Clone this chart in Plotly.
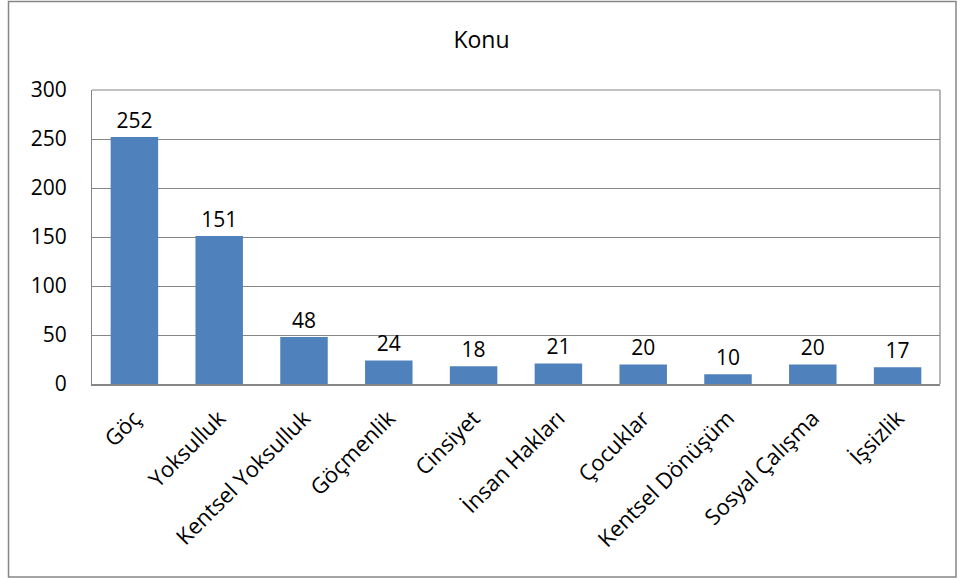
import plotly.graph_objects as go

categories = ["Göç", "Yoksulluk", "Kentsel Yoksulluk", "Göçmenlik", "Cinsiyet",
              "İnsan Hakları", "Çocuklar", "Kentsel Dönüşüm", "Sosyal Çalışma", "İşsizlik"]
values = [252, 151, 48, 24, 18, 21, 20, 10, 20, 17]
y_ticks = [0, 50, 100, 150, 200, 250, 300]

W, H = 963, 578
L, R, T, B = 92, 23, 90, 194
pw, ph = W - L - R, H - T - B

font = "Open Sans, Noto Sans, Liberation Sans, sans-serif"

fig = go.Figure(go.Bar(
    x=categories, y=values,
    marker=dict(color="#4F81BD", line=dict(width=0)),
    text=[str(v) for v in values], textposition="outside",
    textfont=dict(size=21, color="black", family=font),
    cliponaxis=False, hoverinfo="skip",
))

def px2x(p):
    return (p - L) / pw

def py2y(p):
    return (H - B - p) / ph

fig.update_layout(
    width=W, height=H,
    margin=dict(l=L, r=R, t=T, b=B),
    paper_bgcolor="white", plot_bgcolor="white",
    bargap=0.44,
    showlegend=False,
    title=dict(text="Konu", x=0.5, xanchor="center", y=1 - 40 / H, yanchor="middle",
               font=dict(size=23, color="black", family=font)),
    xaxis=dict(tickangle=-45, tickfont=dict(size=22, color="black", family=font),
               showline=True, linecolor="#868686", linewidth=1.5, ticks="",
               showgrid=False, ticklabelstandoff=11),
    yaxis=dict(range=[0, 300], tickvals=y_ticks, tickfont=dict(size=21, color="black", family=font),
               showgrid=True, gridcolor="#868686", gridwidth=1.2,
               showline=True, linecolor="#868686", linewidth=1.2, ticks="",
               zeroline=False, ticklabelstandoff=20),
    shapes=[
        dict(type="rect", xref="paper", yref="paper",
             x0=px2x(8.5), x1=px2x(956), y0=py2y(577), y1=py2y(1.5),
             line=dict(color="#868686", width=1.5), fillcolor="rgba(0,0,0,0)", layer="below"),
        dict(type="line", xref="paper", yref="paper", x0=1, x1=1, y0=0, y1=1,
             line=dict(color="#868686", width=1.2)),
        dict(type="line", xref="paper", yref="paper", x0=0, x1=1, y0=1, y1=1,
             line=dict(color="#868686", width=1.2)),
    ],
)

fig.write_html("out.html",
               config={"displayModeBar": False},
               post_script="document.body.style.margin='0';document.body.style.overflow='hidden';")
